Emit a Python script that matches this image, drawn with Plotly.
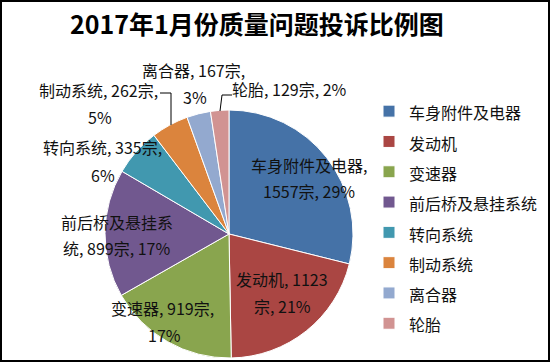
import plotly.graph_objects as go

# ---- data ----
categories = ["车身附件及电器", "发动机", "变速器", "前后桥及悬挂系统",
              "转向系统", "制动系统", "离合器", "轮胎"]
counts = [1557, 1123, 919, 899, 335, 262, 167, 129]
colors = ["#4572A7", "#AA4643", "#89A54E", "#71588F",
          "#4198AF", "#DB843D", "#93A9CF", "#D19392"]
title_text = "2017年1月份质量问题投诉比例图"

total = sum(counts)
pcts = [round(c / total * 100) for c in counts]
label_texts = [f"{n}, {c}宗, {p}%" for n, c, p in zip(categories, counts, pcts)]

# where each data label wraps (character index), and the label line centres (px)
splits = [8, 9, 10, 7, 11, 11, 10, None]
label_pos = [
    [(309, 165), (309, 191)],
    [(282, 279), (282, 306)],
    [(162, 308), (164, 335)],
    [(117, 222), (116, 248)],
    [(102, 147), (103, 175)],
    [(98, 90), (100, 117)],
    [(193, 70), (195, 97)],
    [(289, 89)],
]

W, H = 550, 362
FONT = "Noto Sans CJK SC, Microsoft YaHei, sans-serif"

fig = go.Figure()
fig.add_trace(go.Pie(
    labels=[f'<span style="font-size:16px">{n}</span>' for n in categories],
    values=counts,
    sort=False,
    direction="clockwise",
    rotation=0,
    marker=dict(colors=colors, line=dict(color="#FFFFFF", width=1)),
    textinfo="none",
    textposition="none",
    hovertext=label_texts,
    hoverinfo="text",
    domain=dict(x=[105 / W, 353 / W], y=[4 / H, 252 / H]),
))

ann = []
for txt, sp, pos in zip(label_texts, splits, label_pos):
    lines = [txt] if sp is None else [txt[:sp].strip(), txt[sp:].strip()]
    for line, (px, py) in zip(lines, pos):
        ann.append(dict(x=px / W, y=1 - py / H, xref="paper", yref="paper",
                        text=line, showarrow=False, xanchor="center", yanchor="middle",
                        font=dict(family=FONT, size=16, color="#111111")))

def P(x, y):
    return f"{x / W},{1 - y / H}"

shapes = [
    dict(type="rect", xref="paper", yref="paper", x0=1 / W, x1=1 - 1 / W,
         y0=1 / H, y1=1 - 1 / H, line=dict(color="#000000", width=2)),
    dict(type="path", xref="paper", yref="paper",
         path=f"M{P(160, 93)} L{P(171, 93)} L{P(171, 125)}",
         line=dict(color="#000000", width=1)),
    dict(type="path", xref="paper", yref="paper",
         path=f"M{P(232, 95)} L{P(222, 95)} L{P(220, 111)}",
         line=dict(color="#000000", width=1)),
]

fig.update_layout(
    width=W, height=H,
    margin=dict(l=0, r=0, t=0, b=0),
    paper_bgcolor="#FFFFFF",
    plot_bgcolor="#FFFFFF",
    title=dict(text=title_text, x=257 / W, y=1 - 25 / H, xanchor="center", yanchor="middle",
               font=dict(family=FONT, size=25, color="#000000", weight="bold")),
    legend=dict(x=369 / W, y=1 - 91 / H, xanchor="left", yanchor="top",
                font=dict(family=FONT, size=21, color="#111111"),
                bgcolor="rgba(0,0,0,0)", traceorder="normal"),
    annotations=ann,
    shapes=shapes,
    showlegend=True,
)

fig.write_html("out.html",
               config={"displayModeBar": False},
               post_script="document.body.style.margin='0';document.body.style.padding='0';")
